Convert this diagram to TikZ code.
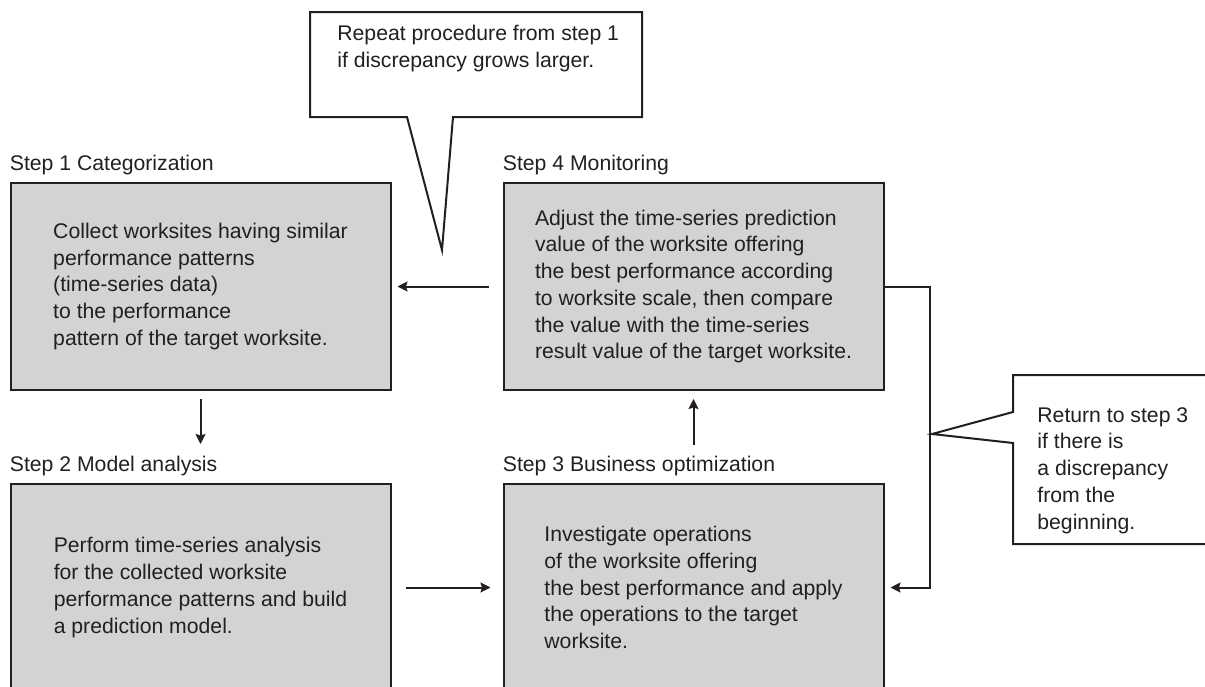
\documentclass[tikz,border=0pt]{standalone}
\usepackage{fontspec}
\setmainfont{Liberation Sans}
\usetikzlibrary{arrows.meta,positioning}
\definecolor{boxgray}{RGB}{209,211,212}
\definecolor{ink}{RGB}{35,31,32}

\begin{document}
\begin{tikzpicture}[x=0.5pt,y=-0.5pt,
        every node/.style={font=\fontsize{10.6pt}{13.35pt}\selectfont, text=ink},
        stepbox/.style={draw=ink, line width=1pt, fill=boxgray, minimum width=190pt, minimum height=103.5pt, inner sep=0pt, align=left},
        steplabel/.style={inner sep=0pt, anchor=base west},
        notetext/.style={inner sep=0pt, anchor=north west, align=left},
        flow/.style={draw=ink, line width=1pt, -{Stealth[length=5pt,width=5pt,inset=0.8pt]}},
        callout/.style={draw=ink, line width=1pt, fill=white, line join=miter}]
            \useasboundingbox (0,0) rectangle (1205,686);
            \node[stepbox] (cat) at (200.5,286.5) {Collect worksites having similar\\performance patterns\\(time-series data)\\to the performance\\pattern of the target worksite.};
            \node[stepbox, right=55.5pt of cat] (mon) {Adjust the time-series prediction\\value of the worksite offering\\the best performance according\\to worksite scale, then compare\\the value with the time-series\\result value of the target worksite.};
            \node[stepbox, below=46pt of cat] (mod) {Perform time-series analysis\\for the collected worksite\\performance patterns and build\\a prediction model.};
            \node[stepbox, below=46pt of mon] (opt) {Investigate operations\\of the worksite offering\\the best performance and apply\\the operations to the target\\worksite.};
            \node[steplabel] (catlab) at ([yshift=6pt]cat.north west) {Step 1 Categorization};
            \node[steplabel] (monlab) at ([yshift=6pt]mon.north west) {Step 4 Monitoring};
            \node[steplabel] (modlab) at ([yshift=6pt]mod.north west) {Step 2 Model analysis};
            \node[steplabel] (optlab) at ([yshift=6pt]opt.north west) {Step 3 Business optimization};
            \draw[flow, shorten <=7pt, shorten >=3pt] (mon) -- (cat);
            \draw[flow, shorten <=4pt, shorten >=19.5pt] (cat) -- (mod);
            \draw[flow, shorten <=7pt, shorten >=6pt] (mod) -- (opt);
            \draw[flow, shorten <=19pt, shorten >=4pt] (opt) -- (mon);
            \draw[flow, shorten >=3pt] (mon.east) -- ++(45,0) coordinate (loop) |- (opt.east);
            \draw[callout] (310,12) -- (642,12) -- (642,117) -- (453,117) -- (442,250) -- (407,117) -- (310,117) -- cycle;
            \node[notetext] (repeat) at (337,25) {Repeat procedure from step 1\\if discrepancy grows larger.};
            \draw[callout] (1013,375) -- (1215,375) -- (1215,544) -- (1013,544) -- (1013,443) -- (932,434) -- (1013,412) -- cycle;
            \node[notetext] (return) at (1037,407) {Return to step 3\\if there is\\a discrepancy\\from the\\beginning.};
        \end{tikzpicture}
\end{document}
